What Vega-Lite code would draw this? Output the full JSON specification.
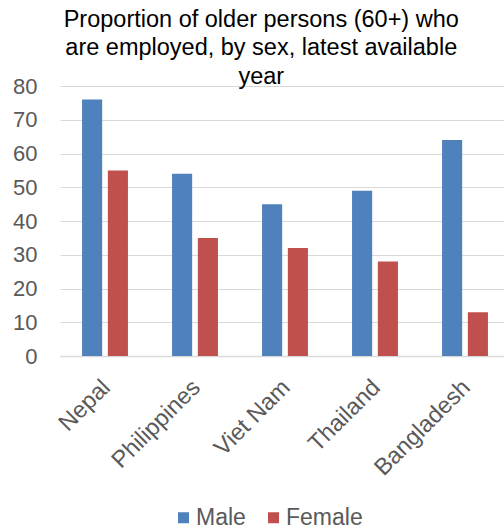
{
  "$schema": "https://vega.github.io/schema/vega-lite/v6.json",
  "width": 444,
  "height": 270,
  "autosize": {"type": "none"},
  "padding": {"left": 60, "top": 86, "right": 0, "bottom": 173},
  "background": "white",
  "title": {
    "text": ["Proportion of older persons (60+) who", "are employed, by sex, latest available", "year"],
    "font": "Liberation Sans",
    "fontSize": 23.5,
    "fontWeight": "normal",
    "color": "#000000",
    "lineHeight": 28.5,
    "anchor": "middle",
    "frame": "bounds",
    "offset": -13
  },
  "config": {
    "view": {"stroke": null},
    "font": "Liberation Sans"
  },
  "data": {
    "values": [
      {"country": "Nepal", "sex": "Male", "value": 76},
      {"country": "Nepal", "sex": "Female", "value": 55},
      {"country": "Philippines", "sex": "Male", "value": 54},
      {"country": "Philippines", "sex": "Female", "value": 35},
      {"country": "Viet Nam", "sex": "Male", "value": 45},
      {"country": "Viet Nam", "sex": "Female", "value": 32},
      {"country": "Thailand", "sex": "Male", "value": 49},
      {"country": "Thailand", "sex": "Female", "value": 28},
      {"country": "Bangladesh", "sex": "Male", "value": 64},
      {"country": "Bangladesh", "sex": "Female", "value": 13}
    ]
  },
  "mark": {"type": "bar"},
  "encoding": {
    "x": {
      "field": "country",
      "type": "nominal",
      "sort": null,
      "scale": {"range": [0, 450], "paddingInner": 0.49, "paddingOuter": 0.245},
      "axis": {
        "title": null,
        "labelAngle": -45,
        "labelFontSize": 23.5,
        "labelColor": "#595959",
        "labelFont": "Liberation Sans",
        "ticks": false,
        "labelPadding": 19,
        "labelOffset": -7,
        "domainColor": "#D9D9D9",
        "domainWidth": 1.5
      }
    },
    "xOffset": {
      "field": "sex",
      "type": "nominal",
      "sort": ["Male", "Female"],
      "scale": {"paddingInner": 0.22}
    },
    "y": {
      "field": "value",
      "type": "quantitative",
      "scale": {"domain": [0, 80], "nice": false},
      "axis": {
        "title": null,
        "values": [0, 10, 20, 30, 40, 50, 60, 70, 80],
        "labelFontSize": 22,
        "labelColor": "#595959",
        "labelFont": "Liberation Sans",
        "ticks": false,
        "domain": false,
        "labelPadding": 23,
        "grid": true,
        "gridColor": "#D9D9D9",
        "gridWidth": 1
      }
    },
    "color": {
      "field": "sex",
      "type": "nominal",
      "sort": ["Male", "Female"],
      "scale": {"domain": ["Male", "Female"], "range": ["#4F81BD", "#C0504D"]},
      "legend": {
        "title": null,
        "orient": "none",
        "legendX": 112,
        "legendY": 420,
        "direction": "horizontal",
        "symbolType": "square",
        "symbolSize": 121,
        "symbolStrokeWidth": 0,
        "labelFontSize": 23,
        "labelColor": "#595959",
        "labelFont": "Liberation Sans",
        "labelOffset": 1,
        "columnPadding": 16
      }
    }
  }
}
